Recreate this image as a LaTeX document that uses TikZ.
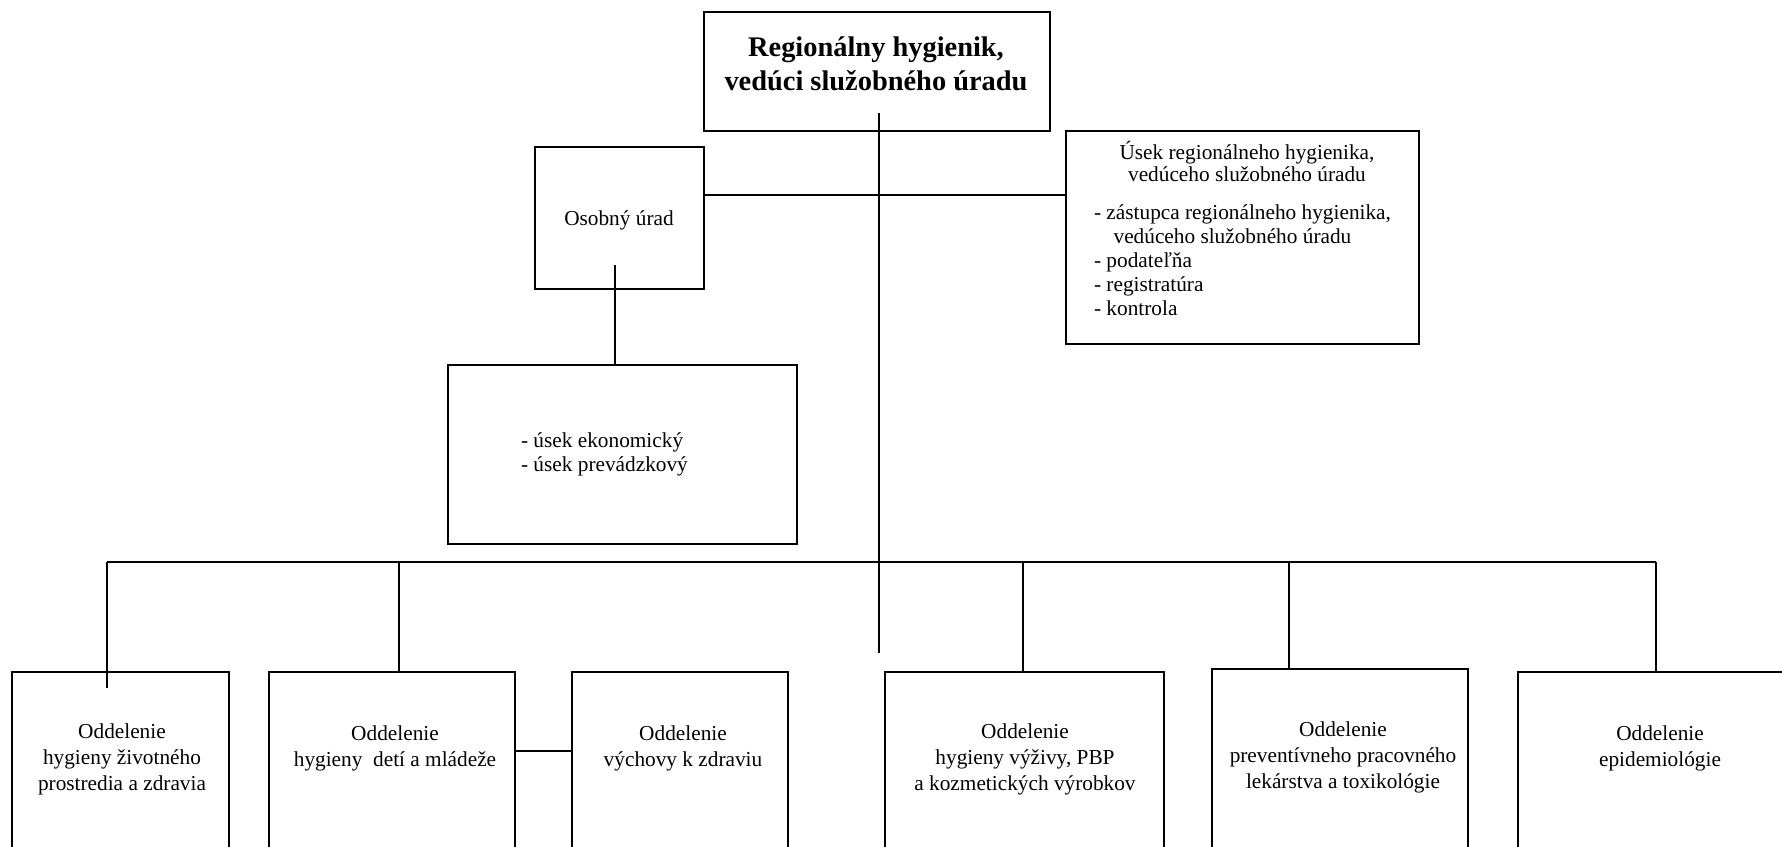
\documentclass[tikz,border=0pt]{standalone}
\usepackage{fontspec}
\setmainfont{Liberation Serif}
\usetikzlibrary{calc}
\newcommand{\pxl}{0.5634pt}
\begin{document}
\begin{tikzpicture}[x=0.5634pt,y=-0.5634pt,
  line width=1.2pt,
  orgbox/.style={draw, line width=1.2pt, inner sep=0pt, anchor=north west},
  lbl/.style={font=\fontsize{12}{14.6}\selectfont, align=center, anchor=base, inner sep=0pt},
  lbll/.style={font=\fontsize{12}{13.4}\selectfont, align=left, anchor=base west, inner sep=0pt},
  conn/.style={draw, line width=1.2pt}]
\clip (0,0) rectangle (1782,846);
\fill[white] (0,0) rectangle (1782,846);

% boxes
\node[orgbox, minimum width=346*\pxl, minimum height=119*\pxl] (top) at (703,11) {};
\node[orgbox, minimum width=169*\pxl, minimum height=142*\pxl] (osobny) at (534,146) {};
\node[orgbox, minimum width=353*\pxl, minimum height=213*\pxl] (usek) at (1065,130) {};
\node[orgbox, minimum width=349*\pxl, minimum height=179*\pxl] (ekonom) at (447,364) {};
\node[orgbox, minimum width=217*\pxl, minimum height=300*\pxl] (b1) at (11,671) {};
\node[orgbox, minimum width=246*\pxl, minimum height=300*\pxl] (b2) at (268,671) {};
\node[orgbox, minimum width=216*\pxl, minimum height=300*\pxl] (b3) at (571,671) {};
\node[orgbox, minimum width=279*\pxl, minimum height=300*\pxl] (b4) at (884,671) {};
\node[orgbox, minimum width=256*\pxl, minimum height=300*\pxl] (b5) at (1211,668) {};
\node[orgbox, minimum width=286*\pxl, minimum height=300*\pxl] (b6) at (1517,671) {};

% texts (anchor = baseline of the last line)
\node[lbl, font=\fontsize{16}{18.8}\selectfont\bfseries] (ttop) at (876,90) {Regionálny hygienik,\\vedúci služobného úradu};
\node[lbl] (tos) at (619,225) {Osobný úrad};
\node[lbl, font=\fontsize{12}{12}\selectfont] (tus1) at (1247,181) {Úsek regionálneho hygienika,\\vedúceho služobného úradu};
\node[lbll] (tus2) at (1093,315) {- zástupca regionálneho hygienika,\\\hspace*{11pt}vedúceho služobného úradu\\- podateľňa\\- registratúra\\- kontrola};
\node[lbll, font=\fontsize{12}{13.5}\selectfont] (tek) at (520,471) {- úsek ekonomický\\- úsek prevádzkový};
\node[lbl] (t1) at (122,790) {Oddelenie\\hygieny životného\\prostredia a zdravia};
\node[lbl] (t2) at (395,766) {Oddelenie\\hygieny~ detí a mládeže};
\node[lbl] (t3) at (683,766) {Oddelenie\\výchovy k zdraviu};
\node[lbl] (t4) at (1025,790) {Oddelenie\\hygieny výživy, PBP\\a kozmetických výrobkov};
\node[lbl] (t5) at (1343,788) {Oddelenie\\preventívneho pracovného\\lekárstva a toxikológie};
\node[lbl] (t6) at (1660,766) {Oddelenie\\epidemiológie};

% connectors
\coordinate (topin) at (879,113);
\coordinate (cend) at (879,653);
\draw[conn] (topin) -- (cend);
\draw[conn] ($(osobny.north east)+(0,49)$) -- ($(usek.north west)+(0,65)$);
\coordinate (osin) at (615,265);
\draw[conn] (osin) -- (osin |- ekonom.north);
\coordinate (busL) at (107,562);
\coordinate (busR) at (1656,562);
\draw[conn] (busL) -- (busR);
\coordinate (d1end) at (107,688);
\draw[conn] (busL) -- (d1end);
\coordinate (j2) at (399,562);
\draw[conn] (j2) -- (j2 |- b2.north);
\coordinate (j4) at (1023,562);
\draw[conn] (j4) -- (j4 |- b4.north);
\coordinate (j5) at (1289,562);
\draw[conn] (j5) -- (j5 |- b5.north);
\draw[conn] (busR) -- (busR |- b6.north);
\draw[conn] ($(b2.north east)+(0,80)$) -- ($(b3.north west)+(0,80)$);
\end{tikzpicture}
\end{document}
